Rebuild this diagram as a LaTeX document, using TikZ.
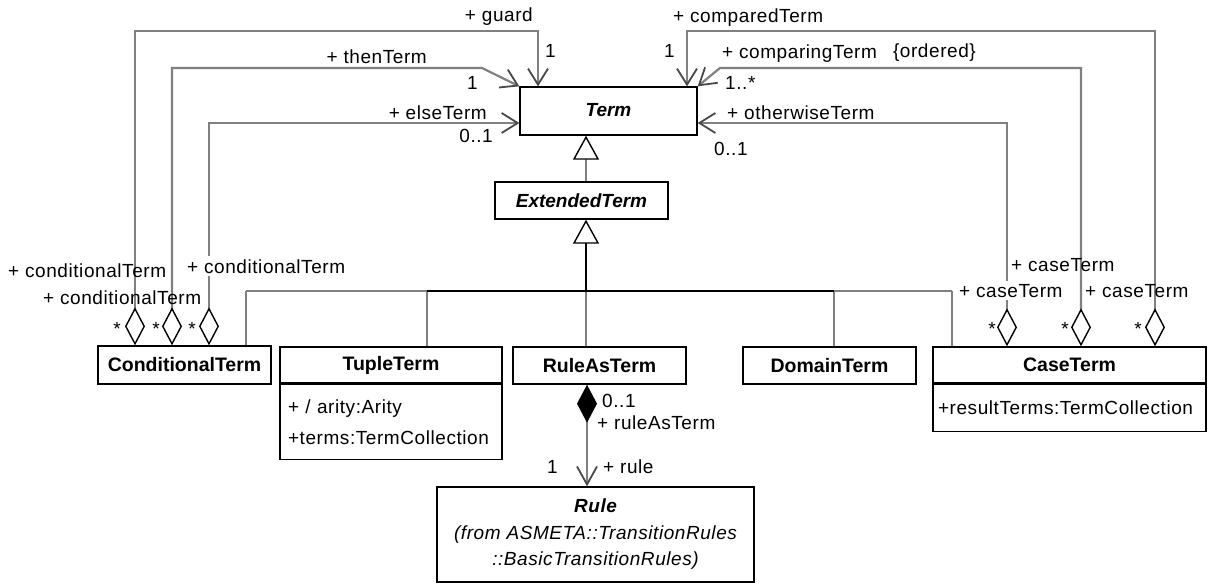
\documentclass[tikz,border=0pt]{standalone}
\usepackage{fontspec}
\setmainfont{Liberation Sans}
\newfontfamily\lblfont{Liberation Sans}[LetterSpace=3]
\usetikzlibrary{arrows.meta}
\definecolor{assoc}{RGB}{128,128,128}
\definecolor{tipgray}{RGB}{72,72,72}
\begin{document}
\begin{tikzpicture}[x=1pt,y=-1pt,
  cls/.style={draw=black, line width=1.4pt, fill=white, inner sep=0pt,
    font=\bfseries\fontsize{19.5}{22}\selectfont},
  abstractcls/.style={cls, font=\bfseries\itshape\fontsize{19}{22}\selectfont},
  attrbox/.style={draw=black, line width=1.4pt, fill=white, inner xsep=8pt,
    inner ysep=0pt, align=left, font=\lblfont\fontsize{19}{31}\selectfont},
  lbl/.style={inner sep=0pt, font=\lblfont\fontsize{19}{22}\selectfont},
  gaplbl/.style={lbl, fill=white, inner xsep=1pt, inner ysep=3pt},
  link/.style={draw=assoc, line width=2.2pt},
  bus/.style={draw=black, line width=2.2pt},
  gentip/.style={-{Triangle[open, length=24pt, width=26pt, line width=1.4pt, color=black, fill=white]}},
  aggnav/.style={{Diamond[open, length=38pt, width=20pt, line width=1.4pt, color=black, fill=white]}-{Straight Barb[length=16pt, width=20pt, line width=1.8pt, color=tipgray]}},
  compnav/.style={{Diamond[length=38pt, width=20pt, color=black]}-{Straight Barb[length=18pt, width=20pt, line width=1.8pt, color=tipgray]}}
]
\useasboundingbox (0,0) rectangle (1210,584);

% classes
\node[abstractcls, minimum width=177pt, minimum height=48pt] (term) at (608.5,111) {\raisebox{2pt}{Term}};
\node[abstractcls, minimum width=173pt, minimum height=37pt] (ext) at (581.5,200.5) {ExtendedTerm};
\node[cls, minimum width=173pt, minimum height=38pt] (cond) at (184.5,365) {ConditionalTerm};
\node[cls, minimum width=222pt, minimum height=36pt] (tuple) at (391,365) {TupleTerm};
\node[attrbox, anchor=north west, text width=206pt, minimum height=75pt] (tupleattr)
  at (tuple.south west) {+ / arity:Arity\\+terms:TermCollection};
\node[cls, minimum width=173pt, minimum height=37pt] (ruleas) at (599.5,365.5) {RuleAsTerm};
\node[cls, minimum width=173pt, minimum height=37pt] (domain) at (829.5,365.5) {DomainTerm};
\node[cls, minimum width=273pt, minimum height=36pt] (case) at (1069.5,365) {CaseTerm};
\node[attrbox, anchor=north west, inner xsep=5pt, text width=263pt, minimum height=47pt] (caseattr)
  at (case.south west) {+resultTerms:TermCollection};
\node[cls, minimum width=317pt, minimum height=95pt, align=center,
  font=\lblfont\itshape\fontsize{19}{26.5}\selectfont] (rule) at (595.5,534.5)
  {{\bfseries Rule}\\(from ASMETA::TransitionRules\\::BasicTransitionRules)};

% generalization tree
\coordinate (bc) at (246,291);
\coordinate (bt) at (427,291);
\coordinate (br) at (586,291);
\coordinate (bd) at (834,291);
\coordinate (bk) at (952,291);
\draw[link] (bc) -- (bc |- cond.north);
\draw[link] (bt) -- (bt |- tuple.north);
\draw[link] (br) -- (br |- ruleas.north);
\draw[link] (bd) -- (bd |- domain.north);
\draw[link] (bk) -- (bk |- case.north);
\draw[link] (bc) -- (bt);
\draw[link] (bd) -- (bk);
\draw[bus] (bt) -- (bd);
\draw[bus, gentip] (br) -- (br |- ext.south);
\draw[link, gentip] (br |- ext.north) -- (br |- term.south);

% associations from ConditionalTerm
\coordinate (guardA) at (135,31);
\coordinate (guardB) at (538,31);
\draw[link, aggnav] (guardA |- cond.north) -- (guardA) -- (guardB) -- (guardB |- term.north);
\coordinate (thenA) at (172,68);
\coordinate (thenB) at (482,68);
\draw[link, aggnav] (thenA |- cond.north) -- (thenA) -- (thenB) -- (term.north west);
\coordinate (elseA) at (209,123);
\draw[link, aggnav] (elseA |- cond.north) -- (elseA) -- (elseA -| term.west);

% associations from CaseTerm
\coordinate (cmpdA) at (1155,31);
\coordinate (cmpdB) at (687,31);
\draw[link, aggnav] (cmpdA |- case.north) -- (cmpdA) -- (cmpdB) -- (cmpdB |- term.north);
\coordinate (cmpgA) at (1081,68);
\coordinate (cmpgB) at (720,68);
\draw[link, aggnav] (cmpgA |- case.north) -- (cmpgA) -- (cmpgB) -- (term.north east);
\coordinate (othA) at (1007,123);
\draw[link, aggnav] (othA |- case.north) -- (othA) -- (othA -| term.east);

% composition RuleAsTerm -> Rule
\coordinate (cx) at (587,450);
\draw[link, compnav] (cx |- ruleas.south) -- (cx |- rule.north);

% role names and multiplicities
\node[lbl, anchor=base east] (lguard) at (533,21.5) {+ guard};
\node[lbl, anchor=base west] (mguard) at (545,57) {1};
\node[lbl, anchor=base west] (lcmpd) at (673,22) {+ comparedTerm};
\node[lbl, anchor=base east] (mcmpd) at (675,57) {1};
\node[lbl, anchor=base east] (lthen) at (427,63) {+ thenTerm};
\node[lbl, anchor=base east] (mthen) at (478,89) {1};
\node[lbl, anchor=base east] (lelse) at (487,119) {+ elseTerm};
\node[lbl, anchor=base east] (melse) at (493,142) {0..1};
\node[lbl, anchor=base west] (lcmpg) at (722,58) {+ comparingTerm};
\node[lbl, anchor=base east] (lord) at (976,57) {\{ordered\}};
\node[lbl, anchor=base west] (mcmpg) at (725,89) {1..*};
\node[lbl, anchor=base west] (loth) at (727,119) {+ otherwiseTerm};
\node[lbl, anchor=base west] (moth) at (714,155) {0..1};

\node[lbl, anchor=base west] (lcond1) at (8,277) {+ conditionalTerm};
\node[lbl, anchor=base west] (lcond2) at (43,304) {+ conditionalTerm};
\node[gaplbl, anchor=base west] (lcond3) at (186,273) {+ conditionalTerm};
\node[lbl, anchor=base] (mcond1) at (117,335.5) {*};
\node[lbl, anchor=base] (mcond2) at (156,335.5) {*};
\node[lbl, anchor=base] (mcond3) at (192,335.5) {*};

\node[lbl, anchor=base west] (lcase1) at (1011,271) {+ caseTerm};
\node[gaplbl, anchor=base west] (lcase2) at (958,297) {+ caseTerm};
\node[lbl, anchor=base west] (lcase3) at (1085,297) {+ caseTerm};
\node[lbl, anchor=base] (mcase1) at (992,335.5) {*};
\node[lbl, anchor=base] (mcase2) at (1065,335.5) {*};
\node[lbl, anchor=base] (mcase3) at (1138,335.5) {*};

\node[lbl, anchor=base west] (mruleas) at (602,407) {0..1};
\node[lbl, anchor=base west] (lruleas) at (597,429) {+ ruleAsTerm};
\node[lbl, anchor=base east] (mrule) at (558,473) {1};
\node[lbl, anchor=base west] (lrule) at (603,473) {+ rule};
\end{tikzpicture}
\end{document}
